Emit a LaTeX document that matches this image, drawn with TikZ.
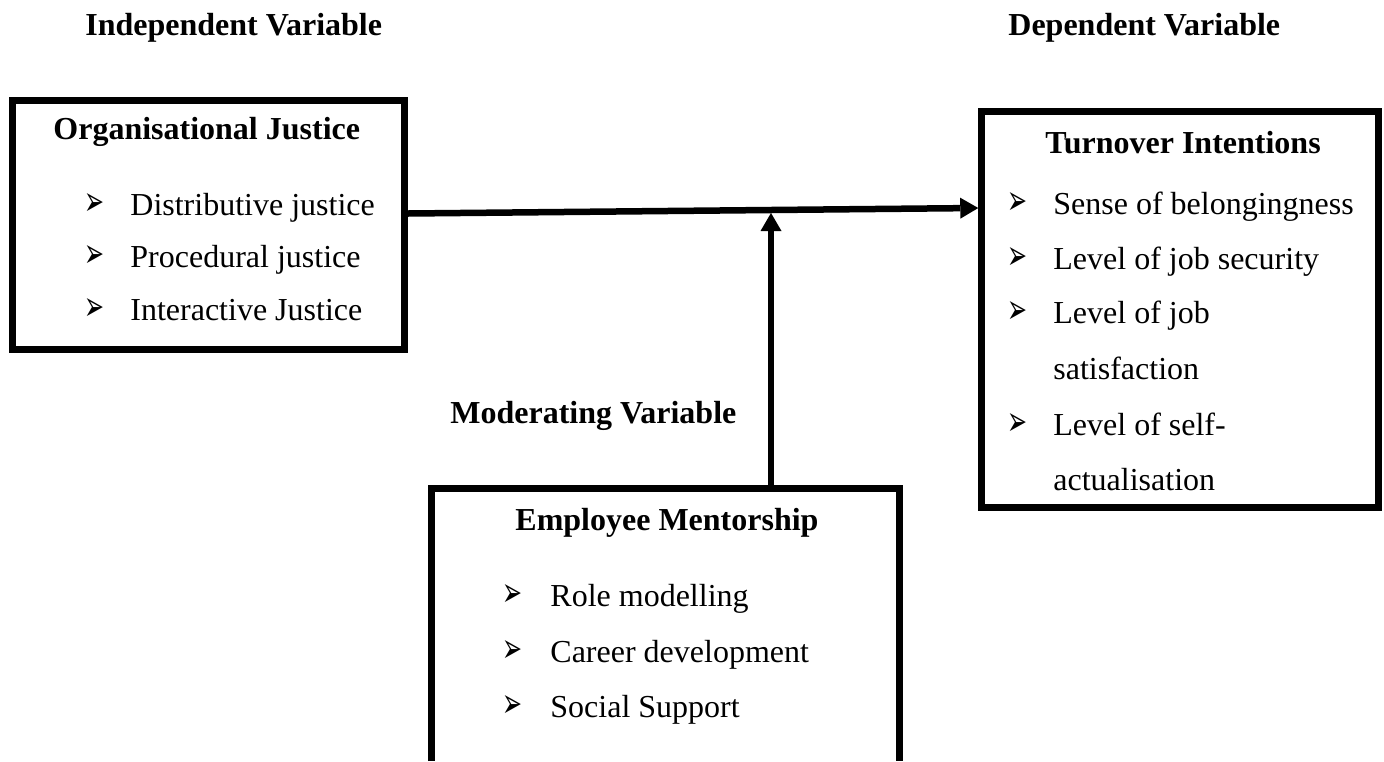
\documentclass[tikz,border=0pt]{standalone}
\usepackage{fontspec}
\usepackage{graphicx}
\setmainfont{Liberation Serif}
\newfontfamily\symfont{DejaVu Sans}
\usetikzlibrary{arrows.meta}
\newcommand{\arrowbullet}{\resizebox{10pt}{11pt}{\symfont ➢}}
\begin{document}
\begin{tikzpicture}[x=0.5pt,y=-0.5pt,
  frame/.style={draw=black, line width=3.25pt, rectangle, inner sep=0pt},
  txt/.style={inner sep=0pt, anchor=base west, font=\fontsize{16}{19}\selectfont},
  head/.style={txt, font=\fontsize{16}{19}\selectfont\bfseries},
  bul/.style={inner sep=0pt, anchor=base west},
  link/.style={line width=3.25pt, -{Triangle[length=9pt,width=10.5pt,line width=0pt]}}
]
\useasboundingbox (0,0) rectangle (1384,761);

% column headings
\node[head] (ivlabel) at (85,35) {Independent Variable};
\node[head] (dvlabel) at (1008,35) {Dependent Variable};
\node[head] (mvlabel) at (450,423) {Moderating Variable};

% boxes
\node[frame, minimum width=196pt, minimum height=124.5pt] (ojbox) at (208.5,225) {};
\node[frame, minimum width=198.5pt, minimum height=198pt] (tibox) at (1180,309.5) {};
\node[inner sep=0pt, outer sep=0pt, minimum width=234pt, minimum height=136.25pt] (embox) at (665.5,624.75) {};
\draw[line width=3.25pt] (embox.south west) -- (embox.north west) -- (embox.north east) -- (embox.south east);

% box titles
\node[head] (ojtitle) at (53,139) {Organisational Justice};
\node[head] (tititle) at (1045,153) {Turnover Intentions};
\node[head] (emtitle) at (515,530) {Employee Mentorship};

% independent variable items
\foreach \t/\y [count=\i] in {Distributive justice/215, Procedural justice/267, Interactive Justice/320} {
  \node[bul] (ojb\i) at (84,\y) {\arrowbullet};
  \node[txt] (oji\i) at (130,\y) {\t};
}

% dependent variable items
\foreach \t/\y [count=\i] in {Sense of belongingness/214, Level of job security/269, Level of job/323, Level of self-/435} {
  \node[bul] (tib\i) at (1007,\y) {\arrowbullet};
  \node[txt] (tii\i) at (1053,\y) {\t};
}
\node[txt] (tic1) at (1053,379) {satisfaction};
\node[txt] (tic2) at (1053,490) {actualisation};

% moderating variable items
\foreach \t/\y [count=\i] in {Role modelling/606, Career development/662, Social Support/717} {
  \node[bul] (emb\i) at (502,\y) {\arrowbullet};
  \node[txt] (emi\i) at (550,\y) {\t};
}

% connectors
\coordinate (hy) at (0,213.5);
\coordinate (ty) at (0,208);
\coordinate (modtip) at (771,213);
\draw[link] (ojbox.east |- hy) -- (tibox.west |- ty);
\draw[link] (embox.north -| modtip) -- (modtip);
\end{tikzpicture}
\end{document}
